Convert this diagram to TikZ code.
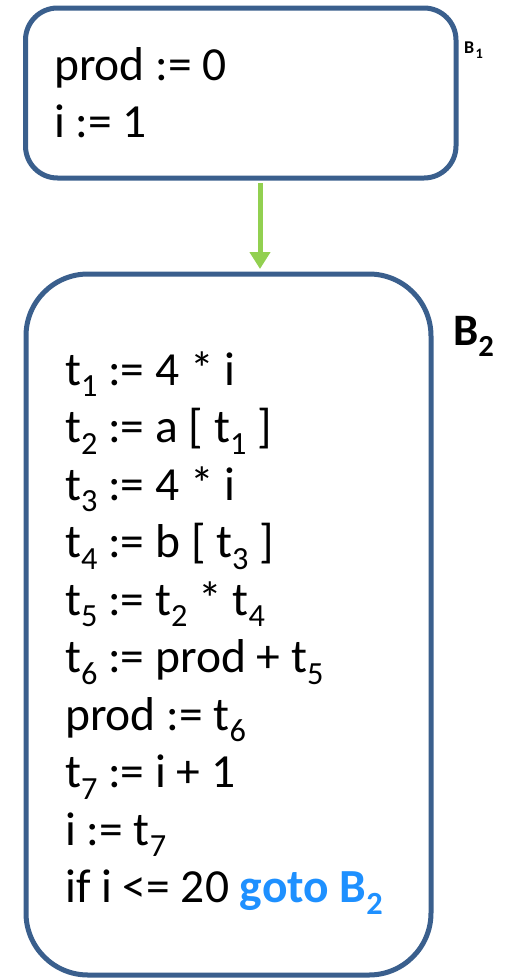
\documentclass[tikz,border=0pt]{standalone}
\usepackage{fontspec}
\usepackage{graphicx}
\setmainfont{Carlito}
\usetikzlibrary{arrows.meta}
\definecolor{boxblue}{HTML}{3A5F8D}
\definecolor{arrowgreen}{HTML}{92D050}
\definecolor{gotoblue}{HTML}{1E90FF}
\newcommand\sbx[1]{\raisebox{-0.25em}{\scalebox{0.68}{#1}}}
\newcommand\sbl[1]{\hspace{0.08em}\raisebox{-0.3em}{\scalebox{0.8}{#1}}}
\begin{document}
\begin{tikzpicture}[x=1pt,y=-1pt,
  blk/.style={draw=boxblue, line width=5pt, fill=white, inner sep=0pt},
  code/.style={anchor=base west, inner sep=0pt, font=\fontsize{47.5}{57}\selectfont},
  lbl/.style={anchor=base west, inner sep=0pt},
  flow/.style={draw=arrowgreen, line width=5pt, -{Triangle[width=20pt,length=17pt,fill=arrowgreen]}}]
\useasboundingbox (0,0) rectangle (504,980);
\node[blk, rounded corners=32pt, minimum width=430.5pt, minimum height=170pt] (b1) at (240.75,93) {};
\node[blk, rounded corners=62pt, minimum width=405pt, minimum height=701pt] (b2) at (228.5,624.5) {};
\node[code] (p1) at (54,80) {prod := 0};
\node[code] (p2) at (54,137) {i := 1};
\node[code] (l1) at (65,385) {t\sbx{1} := 4 * i};
\node[code] (l2) at (65,442.5) {t\sbx{2} := a [ t\sbx{1} ]};
\node[code] (l3) at (65,500) {t\sbx{3} := 4 * i};
\node[code] (l4) at (65,557.5) {t\sbx{4} := b [ t\sbx{3} ]};
\node[code] (l5) at (65,615) {t\sbx{5} := t\sbx{2} * t\sbx{4}};
\node[code] (l6) at (65,672.5) {t\sbx{6} := prod + t\sbx{5}};
\node[code] (l7) at (65,730) {prod := t\sbx{6}};
\node[code] (l8) at (65,787.5) {t\sbx{7} := i + 1};
\node[code] (l9) at (65,845) {i := t\sbx{7}};
\node[code] (l10) at (65,902.5) {if i <= 20 \textcolor{gotoblue}{\bfseries goto B\sbx{2}}};
\node[lbl, font=\bfseries\fontsize{18}{18}\selectfont] (lb1) at (464,53) {B\sbl{1}};
\node[lbl, font=\bfseries\fontsize{45}{45}\selectfont] (lb2) at (453,345) {B\sbx{2}};
\coordinate (ax) at (260,0);
\draw[flow, shorten <=2.5pt, shorten >=2.5pt] (b1.south -| ax) -- (b2.north -| ax);
\end{tikzpicture}
\end{document}
